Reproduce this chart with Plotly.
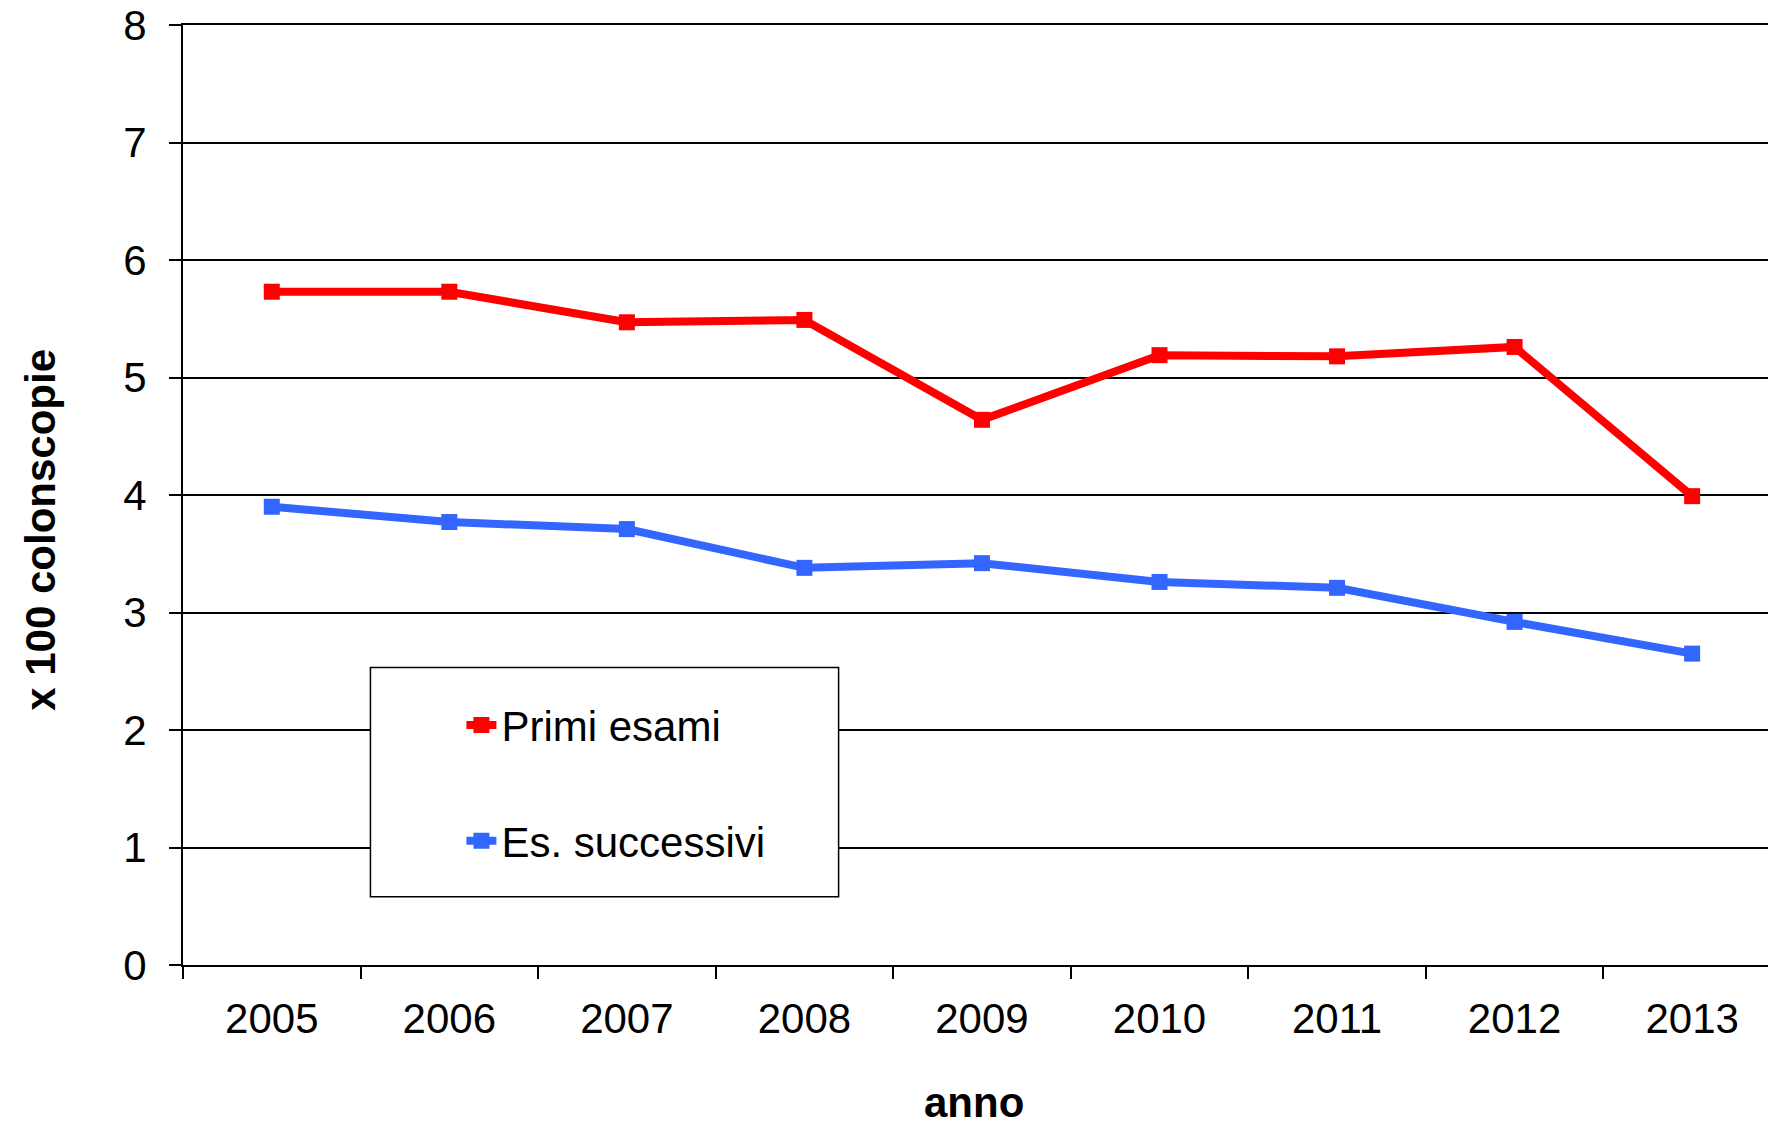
import plotly.graph_objects as go

# ---- data ----
years = ["2005", "2006", "2007", "2008", "2009", "2010", "2011", "2012", "2013"]
primi_esami = [5.73, 5.73, 5.47, 5.49, 4.64, 5.19, 5.18, 5.26, 3.99]
es_successivi = [3.90, 3.77, 3.71, 3.38, 3.42, 3.26, 3.21, 2.92, 2.65]
y_tick_values = [0, 1, 2, 3, 4, 5, 6, 7, 8]

FONT = "Liberation Sans, Arial, sans-serif"
W, H = 1776, 1122
OFF = 8  # page body margin
# plot area in window pixels: left 182.5, top 24.5, bottom 965
L = 182.5 - OFF
T = 24.5 - OFF
B = H - (965 - OFF)
R = 0
PW = W - L - R
PH = H - T - B

def px_x(win_px):
    return (win_px - OFF - L) / PW

def px_y(win_py):
    return (H - B - (win_py - OFF)) / PH

fig = go.Figure()
fig.add_trace(go.Scatter(
    x=years, y=primi_esami, name="Primi esami", mode="lines+markers",
    line=dict(color="#FF0000", width=8),
    marker=dict(symbol="square", size=16, color="#FF0000"),
    legend="legend",
))
fig.add_trace(go.Scatter(
    x=years, y=es_successivi, name="Es. successivi", mode="lines+markers",
    line=dict(color="#3366FF", width=8),
    marker=dict(symbol="square", size=16, color="#3366FF"),
    legend="legend2",
))

cat_px = 177.6
x_max = -0.5 + PW / cat_px

fig.update_layout(
    width=W, height=H,
    margin=dict(l=L, r=R, t=T, b=B, autoexpand=False),
    paper_bgcolor="white", plot_bgcolor="white",
    font=dict(family=FONT, size=42, color="black"),
    xaxis=dict(
        type="category", range=[-0.5, x_max], tickson="boundaries",
        ticks="outside", ticklen=12, tickwidth=2, tickcolor="black",
        showline=True, linecolor="black", linewidth=2, mirror=True,
        showgrid=False, zeroline=False,
        tickfont=dict(family=FONT, size=42, color="black"),
        ticklabelstandoff=16, ticklabeloverflow="allow",
    ),
    yaxis=dict(
        range=[0, 8], tickmode="array", tickvals=y_tick_values,
        ticktext=[str(v) for v in y_tick_values],
        ticks="outside", ticklen=12, tickwidth=2, tickcolor="black",
        showline=True, linecolor="black", linewidth=2,
        showgrid=True, gridcolor="black", gridwidth=2, zeroline=False,
        tickfont=dict(family=FONT, size=42, color="black"),
        ticklabelstandoff=14, ticklabeloverflow="allow",
    ),
    legend=dict(
        x=px_x(461), y=px_y(725), xanchor="left", yanchor="middle",
        bgcolor="rgba(0,0,0,0)", borderwidth=0,
        font=dict(family=FONT, size=42, color="black"),
    ),
    legend2=dict(
        x=px_x(461), y=px_y(841), xanchor="left", yanchor="middle",
        bgcolor="rgba(0,0,0,0)", borderwidth=0,
        font=dict(family=FONT, size=42, color="black"),
    ),
    shapes=[dict(
        type="rect", xref="paper", yref="paper",
        x0=px_x(370), x1=px_x(838.3), y0=px_y(896.7), y1=px_y(667.3),
        line=dict(color="black", width=1.5), fillcolor="white", layer="above",
    )],
    annotations=[
        dict(text="x 100 colonscopie", xref="paper", yref="paper",
             x=px_x(40), y=px_y(530), textangle=-90, showarrow=False,
             xanchor="center", yanchor="middle",
             font=dict(family=FONT, size=42, color="black", weight="bold")),
        dict(text="anno", xref="paper", yref="paper",
             x=px_x(974), y=px_y(1103), showarrow=False,
             xanchor="center", yanchor="middle",
             font=dict(family=FONT, size=42, color="black", weight="bold")),
    ],
    showlegend=True,
)

fig.write_html("out.html")
